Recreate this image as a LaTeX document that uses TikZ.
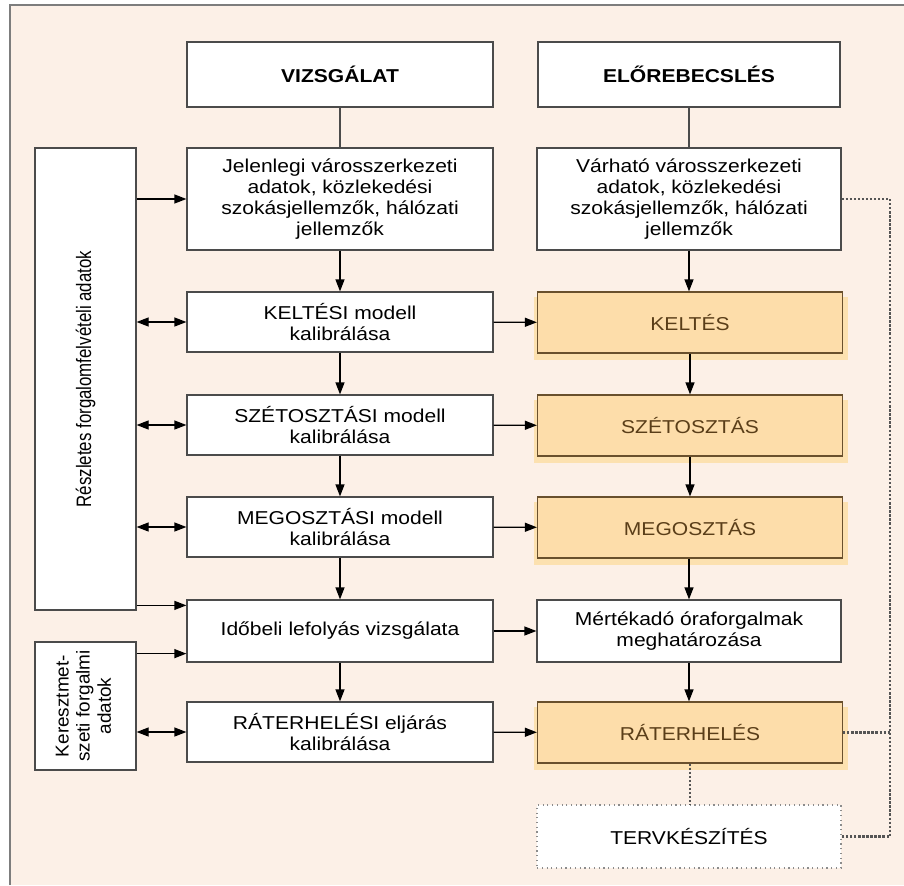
\documentclass[tikz,border=0pt]{standalone}
\usepackage{fontspec}
\setmainfont{Liberation Sans}[FakeStretch=1.13]
\usepackage{xcolor}
\usepackage{graphicx}
\usepackage{tikz}
\usetikzlibrary{arrows.meta, calc, shadows}
\definecolor{paper}{RGB}{252,240,231}
\definecolor{frameline}{RGB}{125,125,125}
\definecolor{edge}{RGB}{75,75,75}
\definecolor{orfill}{RGB}{253,221,170}
\definecolor{orshade}{RGB}{252,225,176}
\definecolor{orline}{RGB}{105,80,45}
\definecolor{ortext}{RGB}{90,62,25}
\definecolor{dotgray}{RGB}{85,85,85}
\definecolor{planedge}{RGB}{140,140,140}
\newcommand{\diagfont}{\fontsize{10.6}{12}\selectfont}
\tikzset{
  box/.style      ={rectangle, draw=edge, fill=white, line width=0.7pt,
                    inner sep=2pt, align=center, font=\diagfont},
  headbox/.style  ={box, font=\diagfont\bfseries, minimum height=1.3cm},
  calbox/.style   ={box, minimum width=6.12cm, minimum height=1.2cm},
  stepbox/.style  ={box, fill=orfill, draw=orline, text=ortext, minimum width=6.1cm, minimum height=1.22cm,
                    general shadow={fill=orshade, shadow xshift=0.02cm, shadow yshift=-0.11cm, shadow scale=1.03}},
  planbox/.style  ={box, draw=planedge, dotted, line width=1pt},
  link/.style     ={line width=0.7pt, color=edge},
  arr/.style      ={->, >={Triangle[length=2.4mm, width=1.8mm]}, line width=0.7pt, color=black},
  dblarr/.style   ={<->, >={Triangle[length=2.4mm, width=1.8mm]}, line width=0.7pt, color=black},
  dotline/.style  ={densely dotted, line width=1.3pt, color=dotgray},
}
\begin{document}
\begin{tikzpicture}[x=1cm, y=1cm]
\useasboundingbox (0,0) rectangle (18.08,-17.7);
\fill[paper] (0.2,-0.1) rectangle (18.08,-17.7);
\draw[frameline, line width=1.1pt] (0.2,-17.7) -- (0.2,-0.1) -- (18.08,-0.1);

% headers
\node[headbox, minimum width=6.12cm] (vizs) at (6.8,-1.49) {VIZSGÁLAT};
\node[headbox, minimum width=6.04cm] (elore) at (13.78,-1.49) {ELŐREBECSLÉS};

% left column
\node[box, minimum width=6.12cm, minimum height=2.04cm] (jelen) at (6.8,-3.98)
  {Jelenlegi városszerkezeti\\adatok, közlekedési\\szokásjellemzők, hálózati\\jellemzők};
\node[calbox] (keltcal) at (6.8,-6.44) {KELTÉSI modell\\kalibrálása};
\node[calbox] (szetcal) at (6.8,-8.5) {SZÉTOSZTÁSI modell\\kalibrálása};
\node[calbox] (megcal) at (6.8,-10.54) {MEGOSZTÁSI modell\\kalibrálása};
\node[calbox, minimum height=1.24cm] (idob) at (6.8,-12.62) {Időbeli lefolyás vizsgálata};
\node[calbox] (ratcal) at (6.8,-14.64) {RÁTERHELÉSI eljárás\\kalibrálása};

% right column
\node[box, minimum width=6.08cm, minimum height=2.04cm] (varh) at (13.78,-3.98)
  {Várható városszerkezeti\\adatok, közlekedési\\szokásjellemzők, hálózati\\jellemzők};
\node[stepbox] (kelt) at (13.8,-6.45) {KELTÉS};
\node[stepbox] (szet) at (13.8,-8.51) {SZÉTOSZTÁS};
\node[stepbox] (meg) at (13.8,-10.55) {MEGOSZTÁS};
\node[box, minimum width=6.08cm, minimum height=1.24cm] (mert) at (13.78,-12.62)
  {Mértékadó óraforgalmak\\meghatározása};
\node[stepbox] (rat) at (13.8,-14.65) {RÁTERHELÉS};
\node[planbox, minimum width=6.08cm, minimum height=1.26cm] (terv) at (13.78,-16.73) {TERVKÉSZÍTÉS};

% data sources
\node[box, minimum width=2.02cm, minimum height=9.24cm] (reszl) at (1.71,-7.58)
  {\rotatebox{90}{\scalebox{0.8}[1.12]{Részletes forgalomfelvételi adatok}}};
\node[box, minimum width=2.02cm, minimum height=2.56cm] (kereszt) at (1.71,-14.12)
  {\rotatebox{90}{\scalebox{0.9}[1]{\begin{tabular}{@{}c@{}}Keresztmet-\\szeti forgalmi\\adatok\end{tabular}}}};

\coordinate (idin1) at ($(idob.north west)+(0,-0.12)$);
\coordinate (idin2) at ($(idob.south west)+(0,0.18)$);
\coordinate (loop) at (17.8,0);

% vertical flow
\draw[link] (vizs) -- (jelen);
\draw[link] (elore) -- (varh);
\draw[arr] (jelen) -- (keltcal);
\draw[arr] (keltcal) -- (szetcal);
\draw[arr] (szetcal) -- (megcal);
\draw[arr] (megcal) -- (idob);
\draw[arr] (idob) -- (ratcal);
\draw[arr] (varh) -- (varh |- kelt.north);
\draw[arr] (kelt) -- (szet);
\draw[arr] (szet) -- (meg);
\draw[arr] (meg.south -| mert.north) -- (mert);
\draw[arr] (mert) -- (mert |- rat.north);

% calibration -> forecast
\draw[arr] (keltcal) -- (kelt);
\draw[arr] (szetcal) -- (szet);
\draw[arr] (megcal) -- (meg);
\draw[arr] (idob) -- (mert);
\draw[arr] (ratcal) -- (rat);

% data inputs
\draw[arr] (reszl.east |- jelen.west) -- (jelen.west);
\draw[dblarr] (reszl.east |- keltcal.west) -- (keltcal.west);
\draw[dblarr] (reszl.east |- szetcal.west) -- (szetcal.west);
\draw[dblarr] (reszl.east |- megcal.west) -- (megcal.west);
\draw[arr] (reszl.east |- idin1) -- (idin1);
\draw[arr] (kereszt.east |- idin2) -- (idin2);
\draw[dblarr] (kereszt.east |- ratcal.west) -- (ratcal.west);

% planning feedback
\draw[dotline] (rat) -- (rat |- terv.north);
\draw[dotline] (varh.east) -- (varh.east -| loop) |- (terv.east);
\draw[dotline] (rat.east) -- (rat.east -| loop);
\end{tikzpicture}
\end{document}
